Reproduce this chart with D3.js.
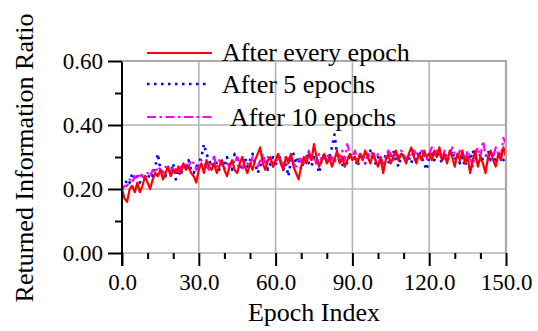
<!DOCTYPE html>
<html>
<head>
<meta charset="utf-8">
<script src="https://cdn.jsdelivr.net/npm/d3@7"></script>
<style>
html,body{margin:0;padding:0;background:#fff;}
svg, svg text{font-family:"Liberation Serif","Times New Roman",serif !important;}
</style>
</head>
<body>
<svg id="chart" width="538" height="331"></svg>
<script>
const seriesNames = ["After every epoch", "After 5 epochs", "After 10 epochs"];
const xTicks = [0, 30, 60, 90, 120, 150];
const xMinorTicks = [10, 20, 40, 50, 70, 80, 100, 110, 130, 140];
const yTicks = [0, 0.2, 0.4, 0.6];
const yMinorTicks = [0.1, 0.3, 0.5];

const everyEpoch = [
0.20,0.17,0.16,0.20,0.21,0.19,0.22,0.19,0.21,0.24,
0.22,0.20,0.23,0.25,0.24,0.26,0.23,0.25,0.27,0.24,
0.26,0.25,0.27,0.25,0.28,0.26,0.27,0.25,0.24,0.22,
0.26,0.28,0.25,0.29,0.27,0.26,0.28,0.25,0.27,0.29,
0.26,0.24,0.27,0.29,0.26,0.25,0.28,0.30,0.27,0.25,
0.28,0.26,0.29,0.31,0.33,0.28,0.26,0.29,0.30,0.27,
0.29,0.31,0.28,0.26,0.30,0.28,0.31,0.27,0.25,0.23,
0.27,0.30,0.28,0.31,0.29,0.34,0.30,0.27,0.29,0.31,
0.28,0.30,0.27,0.29,0.32,0.28,0.30,0.27,0.29,0.31,
0.29,0.30,0.28,0.31,0.29,0.32,0.30,0.28,0.31,0.29,
0.27,0.30,0.25,0.29,0.31,0.28,0.30,0.32,0.29,0.31,
0.30,0.28,0.31,0.33,0.30,0.28,0.31,0.29,0.32,0.30,
0.31,0.29,0.32,0.30,0.33,0.29,0.31,0.28,0.32,0.30,
0.27,0.31,0.29,0.32,0.28,0.30,0.25,0.29,0.32,0.27,
0.30,0.28,0.25,0.30,0.32,0.29,0.27,0.31,0.29,0.33,
0.30];

const every5 = [
0.20,0.21,0.23,0.22,0.25,0.23,0.24,0.22,0.25,0.24,
0.23,0.25,0.24,0.27,0.31,0.26,0.25,0.24,0.27,0.25,
0.28,0.23,0.26,0.24,0.28,0.27,0.29,0.26,0.25,0.27,
0.28,0.30,0.34,0.31,0.29,0.27,0.30,0.28,0.26,0.29,
0.27,0.30,0.28,0.26,0.31,0.29,0.26,0.28,0.30,0.27,
0.29,0.31,0.28,0.25,0.27,0.30,0.29,0.26,0.28,0.30,
0.27,0.31,0.29,0.26,0.28,0.24,0.29,0.31,0.28,0.30,
0.26,0.29,0.31,0.28,0.27,0.30,0.28,0.25,0.29,0.31,
0.28,0.30,0.33,0.37,0.31,0.29,0.27,0.30,0.28,0.31,
0.29,0.30,0.27,0.30,0.31,0.28,0.30,0.32,0.29,0.28,
0.30,0.29,0.27,0.31,0.28,0.30,0.32,0.29,0.27,0.30,
0.31,0.29,0.30,0.28,0.31,0.29,0.32,0.30,0.28,0.26,
0.30,0.31,0.29,0.32,0.30,0.28,0.31,0.29,0.30,0.32,
0.29,0.31,0.28,0.30,0.27,0.31,0.29,0.32,0.30,0.28,
0.31,0.29,0.30,0.32,0.29,0.31,0.28,0.30,0.32,0.29,
0.30];

const every10 = [
0.20,0.21,0.21,0.23,0.22,0.24,0.23,0.25,0.24,0.23,
0.25,0.24,0.26,0.25,0.27,0.26,0.25,0.27,0.26,0.25,
0.27,0.26,0.25,0.27,0.26,0.28,0.27,0.29,0.28,0.26,
0.27,0.29,0.28,0.27,0.26,0.28,0.30,0.27,0.29,0.28,
0.26,0.28,0.27,0.29,0.28,0.30,0.28,0.26,0.29,0.28,
0.27,0.30,0.28,0.27,0.29,0.31,0.28,0.30,0.29,0.27,
0.28,0.30,0.29,0.27,0.30,0.29,0.31,0.28,0.27,0.30,
0.29,0.28,0.30,0.32,0.29,0.30,0.28,0.31,0.29,0.30,
0.31,0.29,0.30,0.28,0.31,0.30,0.32,0.29,0.34,0.31,
0.30,0.32,0.29,0.31,0.30,0.28,0.31,0.30,0.32,0.29,
0.31,0.30,0.28,0.30,0.32,0.31,0.29,0.31,0.30,0.32,
0.31,0.29,0.31,0.30,0.32,0.31,0.30,0.32,0.31,0.29,
0.31,0.33,0.30,0.32,0.31,0.29,0.32,0.30,0.31,0.33,
0.31,0.30,0.32,0.31,0.29,0.32,0.30,0.27,0.31,0.33,
0.30,0.35,0.31,0.29,0.32,0.30,0.33,0.31,0.30,0.36,
0.34];

const FONT = '"Liberation Serif", "Times New Roman", serif';
const svg = d3.select("#chart");
const L = 122, R = 506, T = 61, B = 253;
const x = d3.scaleLinear().domain([0, 150]).range([L, R]);
const y = d3.scaleLinear().domain([0, 0.6]).range([B, T]);
const gridColor = "#b4b4b4";

// grid
const grid = svg.append("g");
grid.selectAll(".vg").data(xTicks.slice(1)).enter().append("line")
  .attr("x1", d => x(d)).attr("x2", d => x(d)).attr("y1", T).attr("y2", B)
  .attr("stroke", gridColor).attr("stroke-width", 1.6);
grid.selectAll(".hg").data(yTicks).enter().append("line")
  .attr("x1", L).attr("x2", R).attr("y1", d => y(d)).attr("y2", d => y(d))
  .attr("stroke", gridColor).attr("stroke-width", 1.6);

// series
const line = d3.line().x((d, i) => x(i)).y(d => y(d));
const styles = [
  {data: everyEpoch, color: "#ff0000", dash: null, w: 2.2},
  {data: every5, color: "#0000ff", dash: "2.5,4.5", w: 2.6},
  {data: every10, color: "#ff00ff", dash: "9,3.5,2.5,3.5", w: 2.2}
];
const drawOrder = [1, 2, 0];
drawOrder.forEach(k => {
  const s = styles[k];
  svg.append("path").datum(s.data).attr("d", line)
    .attr("fill", "none").attr("stroke", s.color).attr("stroke-width", s.w)
    .attr("stroke-dasharray", s.dash).attr("stroke-linejoin", "round");
});

// axes
const fontSize = 23;
const xAxis = svg.append("g").attr("transform", `translate(0,${B})`)
  .call(d3.axisBottom(x).tickValues(xTicks).tickSize(13).tickPadding(8).tickFormat(d3.format(".1f")));
const xMinor = svg.append("g").attr("transform", `translate(0,${B})`)
  .call(d3.axisBottom(x).tickValues(xMinorTicks).tickSize(6).tickFormat(""));
const yAxis = svg.append("g").attr("transform", `translate(${L},0)`)
  .call(d3.axisLeft(y).tickValues(yTicks).tickSize(14).tickPadding(5).tickFormat(d3.format(".2f")));
const yMinor = svg.append("g").attr("transform", `translate(${L},0)`)
  .call(d3.axisLeft(y).tickValues(yMinorTicks).tickSize(7).tickFormat(""));
[xAxis, xMinor, yMinor].forEach(g => g.select(".domain").remove());
yAxis.select(".domain").attr("d", `M0,${T}V${B + 13}`).attr("stroke", "#000").attr("stroke-width", 2);
[xAxis, xMinor, yAxis, yMinor].forEach(g => {
  g.attr("font-family", null).style("font-family", FONT);
  g.selectAll(".tick line").attr("stroke", "#000").attr("stroke-width", 2);
  g.selectAll("text").attr("font-size", fontSize).attr("fill", "#000")
    .style("font-family", FONT);
});

// frame top/right
svg.append("path").attr("d", `M${L},${T}H${R}V${B}`)
  .attr("fill", "none").attr("stroke", "#aaaaaa").attr("stroke-width", 2.2);

// axis titles
svg.append("text").attr("x", (L + R) / 2).attr("y", 321).attr("text-anchor", "middle")
  .attr("font-size", 26).style("font-family", FONT).text("Epoch Index");
svg.append("text").attr("transform", `translate(33,158) rotate(-90)`).attr("text-anchor", "middle")
  .attr("font-size", 26).style("font-family", FONT).text("Returned Information Ratio");

// legend
const legend = [
  {ly: 53, x1: 147, x2: 212, tx: 222, ty: 61},
  {ly: 84, x1: 147, x2: 207, tx: 222, ty: 93},
  {ly: 117, x1: 147, x2: 212, tx: 230, ty: 126}
];
legend.forEach((l, i) => {
  const s = styles[i];
  svg.append("line").attr("x1", l.x1).attr("x2", l.x2).attr("y1", l.ly).attr("y2", l.ly)
    .attr("stroke", s.color).attr("stroke-width", s.w).attr("stroke-dasharray", s.dash);
  svg.append("text").attr("x", l.tx).attr("y", l.ty).attr("font-size", 26)
    .style("font-family", FONT).text(seriesNames[i]);
});
</script>
</body>
</html>
